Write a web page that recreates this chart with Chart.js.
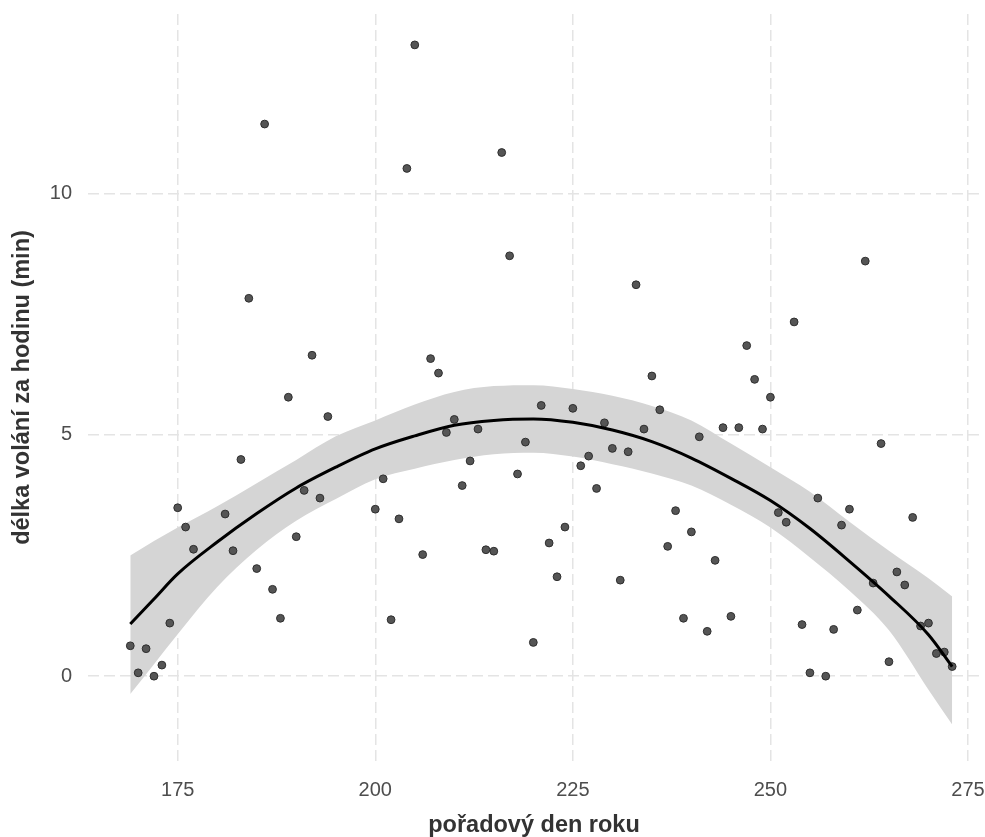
<!DOCTYPE html>
<html>
<head>
<meta charset="utf-8">
<script src="https://cdn.jsdelivr.net/npm/chart.js@4"></script>
<style>
  html, body { margin: 0; padding: 0; background: #ffffff; }
  #wrap { width: 985px; height: 837px; }
</style>
</head>
<body>
<div id="wrap"><canvas id="c" width="985" height="837"></canvas></div>
<script>
// ---- data ----
const dayOfYear = [169,170,171,172,173,174,175,176,177,181,182,183,184,185,186,187,188,189,190,191,192,193,194,
  200,201,202,203,204,205,206,207,208,209,210,211,212,213,214,215,216,217,218,219,220,221,222,223,224,225,
  226,227,228,229,230,231,232,233,234,235,236,237,238,239,240,241,242,243,244,245,246,247,248,249,250,
  251,252,253,254,255,256,257,258,259,260,261,262,263,264,265,266,267,268,269,270,271,272,273];
const callMinutes = [0.63,0.07,0.57,0.00,0.23,1.10,3.49,3.09,2.63,3.36,2.60,4.49,7.83,2.23,11.44,1.80,1.20,5.78,2.89,3.85,6.65,3.69,5.38,
  3.46,4.09,1.17,3.26,10.52,13.08,2.52,6.58,6.28,5.05,5.32,3.95,4.46,5.12,2.62,2.59,10.85,8.71,4.19,4.85,0.70,5.61,2.76,2.06,3.09,5.55,
  4.36,4.56,3.89,5.25,4.72,1.99,4.65,8.11,5.12,6.22,5.52,2.69,3.43,1.20,2.99,4.96,0.93,2.40,5.15,1.24,5.15,6.85,6.15,5.12,5.78,
  3.39,3.19,7.34,1.07,0.07,3.69,0.00,0.97,3.13,3.46,1.37,8.60,1.93,4.82,0.30,2.16,1.89,3.29,1.04,1.10,0.47,0.50,0.20];

const smoothDays  = [169,172,175,180,185,190,195,200,205,210,215,220,225,230,235,240,245,250,255,260,265,270,273];
const smoothFit   = [1.08,1.60,2.12,2.78,3.37,3.90,4.33,4.71,4.98,5.20,5.30,5.33,5.26,5.10,4.86,4.52,4.10,3.64,3.06,2.38,1.66,0.86,0.20];
const smoothUpper = [2.50,2.80,3.08,3.52,4.00,4.48,4.97,5.30,5.63,5.89,6.01,6.03,5.95,5.81,5.60,5.30,4.82,4.33,3.82,3.20,2.60,2.03,1.65];
const smoothLower = [-0.37,0.25,0.87,1.85,2.62,3.22,3.67,4.08,4.30,4.48,4.60,4.63,4.55,4.39,4.20,3.95,3.55,3.08,2.46,1.77,0.95,-0.28,-1.00];

const xTicks = [175, 200, 225, 250, 275];
const yTicks = [0, 5, 10];

const xTitle = 'pořadový den roku';
const yTitle = 'délka volání za hodinu (min)';

// ---- build datasets ----
const pts = (xs, ys) => xs.map((x, i) => ({ x: x, y: ys[i] }));
const FONT = "'Liberation Sans', Arial, sans-serif";

new Chart(document.getElementById('c'), {
  type: 'scatter',
  data: {
    datasets: [
      {
        type: 'line', label: 'fit', data: pts(smoothDays, smoothFit),
        borderColor: '#000000', borderWidth: 3, pointRadius: 0, fill: false,
        cubicInterpolationMode: 'monotone', order: 0
      },
      {
        type: 'scatter', label: 'data', data: pts(dayOfYear, callMinutes),
        backgroundColor: '#555555', borderColor: '#2e2e2e', borderWidth: 1,
        pointRadius: 3.9, order: 1
      },
      {
        type: 'line', label: 'upper', data: pts(smoothDays, smoothUpper),
        borderWidth: 0, borderColor: 'rgba(0,0,0,0)', pointRadius: 0,
        backgroundColor: '#d5d5d5', fill: '+1',
        cubicInterpolationMode: 'monotone', order: 2
      },
      {
        type: 'line', label: 'lower', data: pts(smoothDays, smoothLower),
        borderWidth: 0, borderColor: 'rgba(0,0,0,0)', pointRadius: 0, fill: false,
        cubicInterpolationMode: 'monotone', order: 3
      }
    ]
  },
  options: {
    responsive: false,
    animation: false,
    layout: { padding: { top: 14, left: 0, right: 0, bottom: 0 } },
    plugins: {
      legend: { display: false },
      tooltip: { enabled: false }
    },
    scales: {
      x: {
        type: 'linear',
        min: 163.65, max: 276.52,
        border: { display: false, dash: [11, 5] },
        grid: { color: '#e4e4e4', lineWidth: 1.5, drawTicks: false },
        afterBuildTicks: (s) => { s.ticks = xTicks.map(v => ({ value: v })); },
        afterFit: (s) => { s.height = 76; s.paddingLeft = 0; s.paddingRight = 0; },
        ticks: {
          padding: 17,
          color: '#4d4d4d',
          font: { family: FONT, size: 20 },
          callback: (v) => String(v)
        },
        title: {
          display: true, text: xTitle, color: '#333333',
          font: { family: FONT, size: 23.5, weight: 'bold', lineHeight: 1 },
          padding: { top: 0, bottom: 0 }
        }
      },
      y: {
        type: 'linear',
        min: -1.757, max: 13.72,
        border: { display: false, dash: [11, 5] },
        grid: { color: '#e4e4e4', lineWidth: 1.5, drawTicks: false },
        afterBuildTicks: (s) => { s.ticks = yTicks.map(v => ({ value: v })); },
        afterFit: (s) => { s.width = 88; s.paddingTop = 0; s.paddingBottom = 0; },
        ticks: {
          padding: 16,
          color: '#4d4d4d',
          font: { family: FONT, size: 20 },
          callback: (v) => String(v)
        },
        title: {
          display: true, text: yTitle, color: '#333333',
          font: { family: FONT, size: 23.5, weight: 'bold', lineHeight: 1 },
          padding: { top: 11, bottom: 0 }
        }
      }
    }
  }
});
</script>
</body>
</html>
